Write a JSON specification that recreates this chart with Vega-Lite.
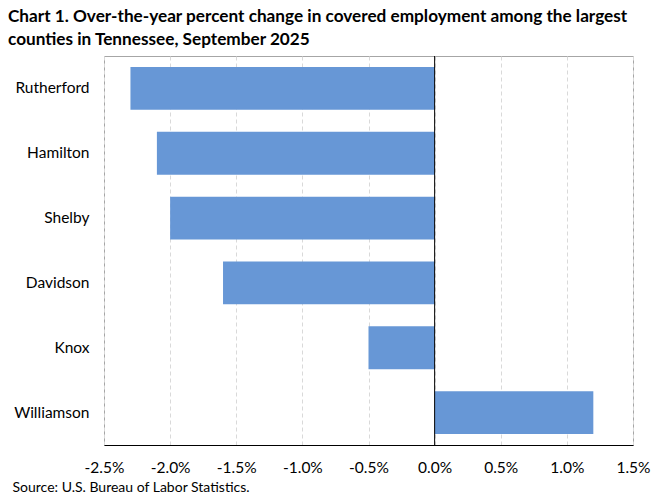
{
  "$schema": "https://vega.github.io/schema/vega-lite/v6.json",
  "width": 529,
  "height": 389,
  "autosize": "none",
  "padding": {"left": 104, "top": 56, "right": 27, "bottom": 49},
  "background": "white",
  "config": {
    "font": "Lato",
    "view": {"stroke": "#a6a6a6", "strokeWidth": 1}
  },
  "title": {
    "text": ["Chart 1. Over-the-year percent change in covered employment among the largest", "counties in Tennessee, September 2025"],
    "anchor": "start",
    "frame": "group",
    "dx": -96,
    "offset": 7,
    "fontSize": 17.2,
    "fontWeight": "bold",
    "color": "#000000",
    "lineHeight": 23,
    "font": "Lato"
  },
  "data": {
    "values": [
      {"county": "Rutherford", "change": -0.023},
      {"county": "Hamilton", "change": -0.021},
      {"county": "Shelby", "change": -0.020},
      {"county": "Davidson", "change": -0.016},
      {"county": "Knox", "change": -0.005},
      {"county": "Williamson", "change": 0.012}
    ]
  },
  "layer": [
    {
      "mark": {"type": "bar", "color": "#6797d6"},
      "encoding": {
        "y": {
          "field": "county",
          "type": "nominal",
          "sort": null,
          "scale": {"paddingInner": 0.34, "paddingOuter": 0.17},
          "axis": {
            "title": null,
            "domain": false,
            "ticks": false,
            "labelFontSize": 15.5,
            "labelColor": "#000000",
            "labelPadding": 15,
            "labelFont": "Lato"
          }
        },
        "x": {
          "field": "change",
          "type": "quantitative",
          "scale": {"domain": [-0.025, 0.015], "nice": false, "zero": false},
          "axis": {
            "values": [-0.025, -0.02, -0.015, -0.01, -0.005, 0, 0.005, 0.01, 0.015],
            "format": ".1%",
            "labelExpr": "replace(datum.label, '\u2212', '-')",
            "labelFlush": false,
            "labelOverlap": false,
            "grid": true,
            "gridColor": "#d9d9d9",
            "gridDash": [4, 3],
            "domain": true,
            "domainColor": "#000000",
            "ticks": false,
            "labelFontSize": 15.5,
            "labelColor": "#000000",
            "labelPadding": 15,
            "labelFont": "Lato",
            "title": "Source: U.S. Bureau of Labor Statistics.",
            "titleAnchor": "start",
            "titleAlign": "left",
            "titleBaseline": "top",
            "titleX": -92,
            "titleY": 35,
            "titleFontSize": 14,
            "titleFontWeight": "normal",
            "titleColor": "#000000",
            "titleFont": "Lato"
          }
        }
      }
    },
    {
      "data": {"values": [{"zero": 0}]},
      "mark": {"type": "rule", "color": "#000000", "strokeWidth": 1},
      "encoding": {
        "x": {"field": "zero", "type": "quantitative"}
      }
    }
  ]
}
